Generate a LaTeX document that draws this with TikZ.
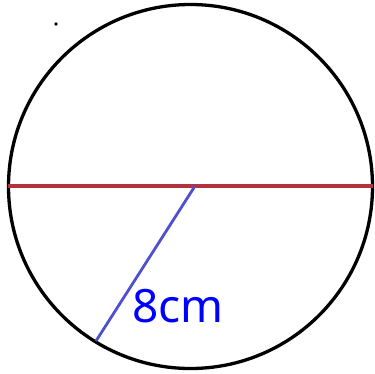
\documentclass[tikz,border=0pt]{standalone}
\usepackage{fontspec}
\newfontfamily\labelfont{Noto Sans}
\definecolor{diamred}{RGB}{180,50,62}
\definecolor{radblue}{RGB}{80,80,205}
\definecolor{txtblue}{RGB}{0,0,255}
\begin{document}
\begin{tikzpicture}[x=1pt,y=-1pt,
  rim/.style={draw=black,line width=3.3pt},
  diam/.style={draw=diamred,line width=3.4pt},
  rad/.style={draw=radblue,line width=2.8pt},
  lbl/.style={text=txtblue,font=\labelfont\fontsize{46}{50}\selectfont,inner sep=0pt,anchor=base west}]
\useasboundingbox (0,0) rectangle (375,373);
\coordinate (c) at (190.5,186.5);
\coordinate (l) at (8,186);
\coordinate (r) at (373,186);
\coordinate (o) at (195,186);
\coordinate (e) at (96,341);
\draw[rim] (c) circle[radius=182];
\draw[diam] (l) -- (r);
\draw[rad] (o) -- (e);
\fill (56,24) circle[radius=1.8];
\node[lbl] (t) at (132,322) {8cm};
\end{tikzpicture}
\end{document}
